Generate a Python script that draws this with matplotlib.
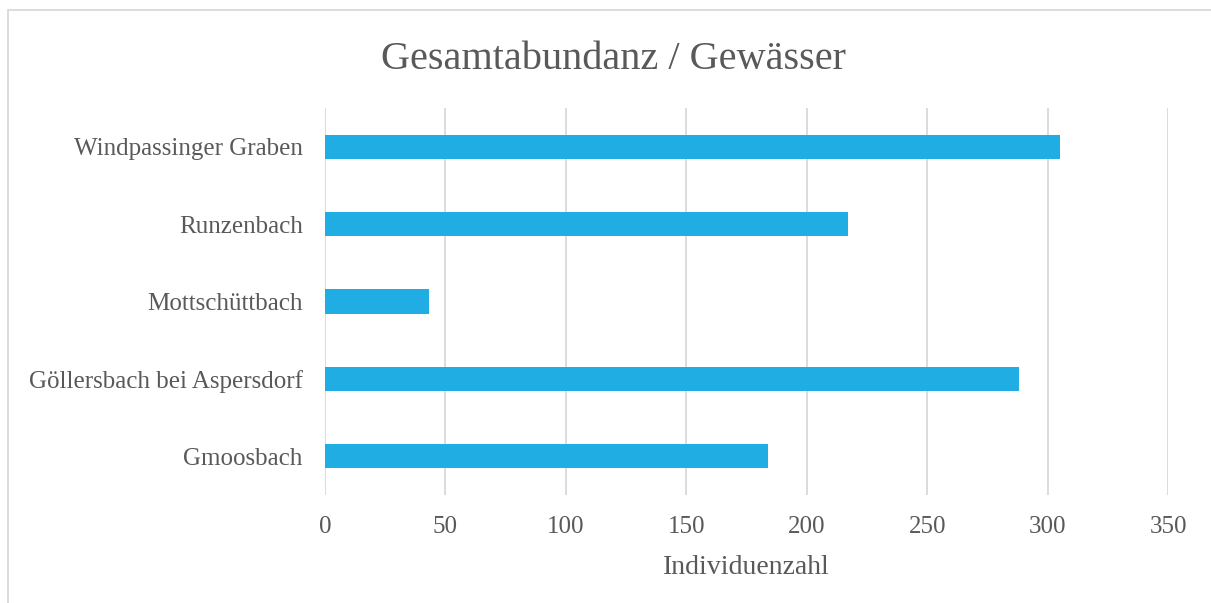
import matplotlib.pyplot as plt
from matplotlib.patches import Rectangle

categories = ['Gmoosbach', 'Göllersbach bei Aspersdorf', 'Mottschüttbach',
              'Runzenbach', 'Windpassinger Graben']
values = [184, 288, 43, 217, 305]
xticks = [0, 50, 100, 150, 200, 250, 300, 350]

plt.rcParams['font.family'] = ['Liberation Serif', 'DejaVu Serif']
grey = '#595959'

fig = plt.figure(figsize=(12.11, 6.03), dpi=100)
ax = fig.add_axes([0.2684, 0.179, 0.6961, 0.642])

ax.barh(categories, values, height=0.31, color='#1FADE4', zorder=3)

ax.set_xlim(0, 350)
ax.set_ylim(-0.5, len(categories) - 0.5)
ax.set_xticks(xticks)
ax.grid(axis='x', color='#D9D9D9', linewidth=1.3, zorder=0)
for s in ax.spines.values():
    s.set_visible(False)
ax.tick_params(axis='x', length=0, labelsize=18, colors=grey, pad=15)
ax.tick_params(axis='y', length=0, labelsize=18, colors=grey, pad=16)
ax.set_xlabel('Individuenzahl', fontsize=20, color=grey, labelpad=12)

fig.text(0.507, 0.902, 'Gesamtabundanz / Gewässer', ha='center', va='center',
         fontsize=29, color=grey)

# chart frame
fig.patches.append(Rectangle((8 / 1211, -0.1), 1.2, 1 - 10 / 603 + 0.1,
                             transform=fig.transFigure, fill=False,
                             edgecolor='#D9D9D9', linewidth=1.3))

fig.savefig('out.png', dpi=100)
